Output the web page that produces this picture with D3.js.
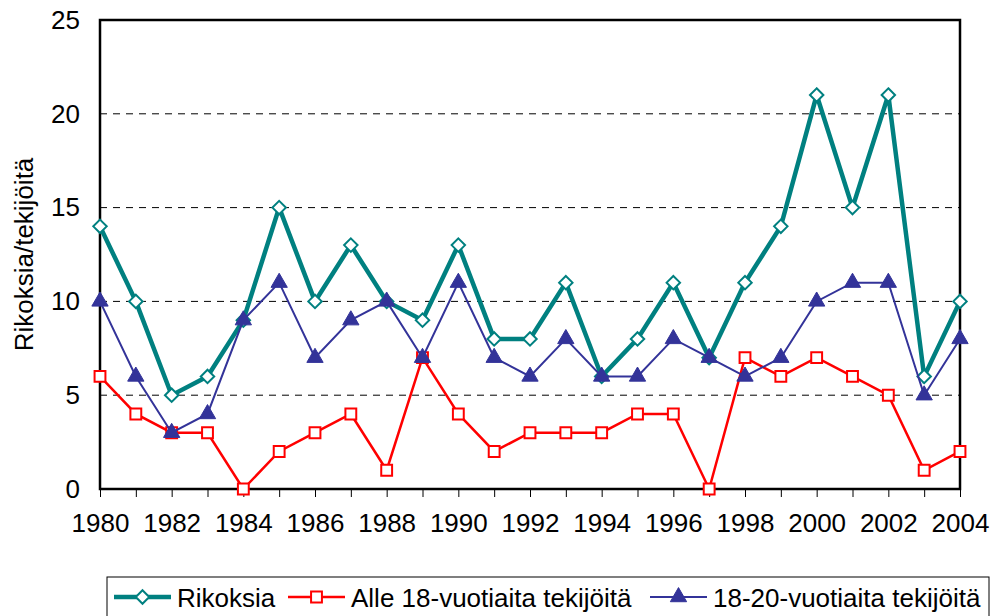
<!DOCTYPE html>
<html>
<head>
<meta charset="utf-8">
<script src="https://cdn.jsdelivr.net/npm/d3@7"></script>
<style>
  body { margin: 0; background: #fff; }
  svg { display: block; font-family: Arial, "Liberation Sans", sans-serif; }
</style>
</head>
<body>
<div id="vis"></div>
<script>
const years = d3.range(1980, 2005);
const rikoksia = [14, 10, 5, 6, 9, 15, 10, 13, 10, 9, 13, 8, 8, 11, 6, 8, 11, 7, 11, 14, 21, 15, 21, 6, 10];
const alle18 = [6, 4, 3, 3, 0, 2, 3, 4, 1, 7, 4, 2, 3, 3, 3, 4, 4, 0, 7, 6, 7, 6, 5, 1, 2];
const v18to20 = [10, 6, 3, 4, 9, 11, 7, 9, 10, 7, 11, 7, 6, 8, 6, 6, 8, 7, 6, 7, 10, 11, 11, 5, 8];
const yTicks = [0, 5, 10, 15, 20, 25];
const xTickLabels = d3.range(1980, 2005, 2);

const seriesNames = ["Rikoksia", "Alle 18-vuotiaita tekijöitä", "18-20-vuotiaita tekijöitä"];

const width = 994, height = 616;
const margin = {top: 20, right: 34, bottom: 127, left: 100};
const innerW = width - margin.left - margin.right;
const innerH = height - margin.top - margin.bottom;

const series = [
    {name: seriesNames[0], values: rikoksia, color: "#008080", width: 4.5, marker: "diamond"},
    {name: seriesNames[1], values: alle18, color: "#ff0000", width: 2.5, marker: "square"},
    {name: seriesNames[2], values: v18to20, color: "#333399", width: 2, marker: "triangle"}
];

const svg = d3.select("#vis").append("svg")
    .attr("width", width)
    .attr("height", height);

const g = svg.append("g").attr("transform", `translate(${margin.left},${margin.top})`);

const xScale = d3.scaleLinear().domain([1980, 2004]).range([0, innerW]);
const yScale = d3.scaleLinear().domain([0, 25]).range([innerH, 0]);

// dashed gridlines
g.append("g")
    .selectAll("line")
    .data(yTicks.filter(d => d > 0 && d < 25))
    .join("line")
    .attr("x1", 0).attr("x2", innerW)
    .attr("y1", d => yScale(d)).attr("y2", d => yScale(d))
    .attr("stroke", "#000")
    .attr("stroke-width", 1)
    .attr("stroke-dasharray", "7,6");

// frame
g.append("rect")
    .attr("width", innerW).attr("height", innerH)
    .attr("fill", "none")
    .attr("stroke", "#000")
    .attr("stroke-width", 2.5);

// x axis ticks & labels
const xAxis = d3.axisBottom(xScale)
    .tickValues(years)
    .tickSize(8)
    .tickFormat(d => xTickLabels.includes(d) ? d : "");
const gx = g.append("g")
    .attr("transform", `translate(0,${innerH})`)
    .call(xAxis);
gx.select(".domain").remove();
gx.selectAll(".tick line").attr("stroke", "#000").attr("stroke-width", 1);
gx.selectAll(".tick text")
    .attr("y", 25)
    .attr("dy", "0.71em")
    .attr("fill", "#000")
    .style("font-size", "26px")
    .style("font-family", "Arial, 'Liberation Sans', sans-serif");

// y axis labels
const yAxis = d3.axisLeft(yScale).tickValues(yTicks).tickSize(0).tickPadding(20);
const gy = g.append("g").call(yAxis);
gy.select(".domain").remove();
gy.selectAll(".tick text")
    .attr("fill", "#000")
    .style("font-size", "26px")
    .style("font-family", "Arial, 'Liberation Sans', sans-serif");

// y axis title
svg.append("text")
    .attr("transform", `translate(33,${margin.top + innerH / 2}) rotate(-90)`)
    .attr("text-anchor", "middle")
    .style("font-size", "26px")
    .text("Rikoksia/tekijöitä");

const symbolFor = m => m === "diamond" ? d3.symbol(d3.symbolDiamond2, 115)
    : m === "square" ? d3.symbol(d3.symbolSquare2, 150)
    : d3.symbol(d3.symbolTriangle, 115);

function drawMarker(sel, s) {
    sel.attr("d", symbolFor(s.marker)())
        .attr("fill", s.marker === "triangle" ? s.color : "#fff")
        .attr("stroke", s.color)
        .attr("stroke-width", s.marker === "triangle" ? 1 : 2);
}

const line = d3.line()
    .x((d, i) => xScale(years[i]))
    .y(d => yScale(d));

series.forEach(s => {
    const sg = g.append("g");
    sg.append("path")
        .datum(s.values)
        .attr("d", line)
        .attr("fill", "none")
        .attr("stroke", s.color)
        .attr("stroke-width", s.width)
        .attr("stroke-linejoin", "miter");
    sg.selectAll("path.mk")
        .data(s.values)
        .join("path")
        .attr("class", "mk")
        .attr("transform", (d, i) => `translate(${xScale(years[i])},${yScale(d)})`)
        .call(drawMarker, s);
});

// legend
const lg = svg.append("g");
lg.append("rect")
    .attr("x", 107).attr("y", 577)
    .attr("width", 882).attr("height", 60)
    .attr("fill", "#fff")
    .attr("stroke", "#000")
    .attr("stroke-width", 1);

const legendX = [114, 288, 650];
series.forEach((s, i) => {
    const x0 = legendX[i];
    const item = lg.append("g").attr("transform", `translate(${x0},597)`);
    item.append("line")
        .attr("x1", 0).attr("x2", 57)
        .attr("stroke", s.color)
        .attr("stroke-width", s.width);
    item.append("path")
        .attr("transform", "translate(28.5,0)")
        .call(drawMarker, s);
    item.append("text")
        .attr("x", 63).attr("y", 10)
        .style("font-size", "26px")
        .text(s.name);
});
</script>
</body>
</html>
